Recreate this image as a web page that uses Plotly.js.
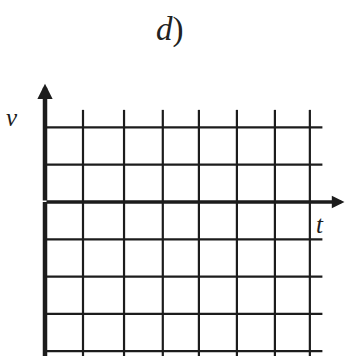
<!DOCTYPE html>
<html>
<head>
<meta charset="utf-8">
<script src="https://cdn.plot.ly/plotly-3.0.1.min.js"></script>
<style>
  html, body { margin: 0; padding: 0; background: #ffffff; }
  #chart { width: 349px; height: 356px; }
</style>
</head>
<body>
<div id="chart"></div>
<script>
// Grid positions (in t and v units)
var tGrid = [1.0, 2.08, 3.1, 4.05, 5.05, 6.05, 6.97]; // vertical grid lines
var vGrid = [2, 1, -1, -2, -3, -4];                    // horizontal grid lines
var gridTop = 2.47;                                    // top end of vertical grid lines
var gridBottom = -4.3;                                 // bottom end of vertical grid lines
var gridRight = 7.3;                                   // right end of horizontal grid lines
var tAxisEnd = 7.88;                                   // t-axis arrow tip
var vAxisEnd = 3.17;                                   // v-axis arrow tip
var titleText = "<i>d</i>)";
var vLabel = "<i>v</i>";
var tLabel = "<i>t</i>";

var lineColor = "#1c1c1c";

// vertical grid lines
var vx = [], vy = [];
tGrid.forEach(function (t) { vx.push(t, t, null); vy.push(gridBottom, gridTop, null); });
// horizontal grid lines
var hx = [], hy = [];
vGrid.forEach(function (v) { hx.push(0, gridRight, null); hy.push(v, v, null); });

var traces = [
  { x: vx, y: vy, mode: "lines", line: { color: lineColor, width: 2.2 }, hoverinfo: "skip", showlegend: false },
  { x: hx, y: hy, mode: "lines", line: { color: lineColor, width: 2.2 }, hoverinfo: "skip", showlegend: false },
  // v axis shaft (below the arrow)
  { x: [0, 0], y: [gridBottom, 0], mode: "lines", line: { color: lineColor, width: 4.5 }, hoverinfo: "skip", showlegend: false }
];

var pxPerT = 38, pxPerV = 37.3, x0px = 45, y0px = 202;
var layout = {
  width: 349, height: 356,
  margin: { l: 0, r: 0, t: 0, b: 0, pad: 0 },
  paper_bgcolor: "#ffffff", plot_bgcolor: "#ffffff",
  showlegend: false,
  xaxis: { range: [-x0px / pxPerT, (349 - x0px) / pxPerT], visible: false, fixedrange: true },
  yaxis: { range: [(y0px - 356) / pxPerV, y0px / pxPerV], visible: false, fixedrange: true },
  annotations: [
    // t axis with arrow
    { x: tAxisEnd, y: 0, ax: 0, ay: 0, xref: "x", yref: "y", axref: "x", ayref: "y",
      showarrow: true, arrowhead: 2, arrowsize: 0.72, arrowwidth: 3.5, arrowcolor: lineColor, text: "" },
    // v axis with arrow
    { x: 0, y: vAxisEnd, ax: 0, ay: 0, xref: "x", yref: "y", axref: "x", ayref: "y",
      showarrow: true, arrowhead: 2, arrowsize: 0.68, arrowwidth: 4.5, arrowcolor: lineColor, text: "" },
    { x: 170 / 349, y: 1 - 29 / 356, xref: "paper", yref: "paper", xanchor: "center", yanchor: "middle",
      text: titleText, showarrow: false,
      font: { family: "Liberation Serif", size: 33, color: "#222" } },
    { x: (12 - x0px) / pxPerT, y: (y0px - 117) / pxPerV, xref: "x", yref: "y", xanchor: "center", yanchor: "middle",
      text: vLabel, showarrow: false,
      font: { family: "Liberation Serif", size: 25, color: "#1c1c1c" } },
    { x: (320 - x0px) / pxPerT, y: (y0px - 224) / pxPerV, xref: "x", yref: "y", xanchor: "center", yanchor: "middle",
      text: tLabel, showarrow: false,
      font: { family: "Liberation Serif", size: 25, color: "#1c1c1c" } }
  ]
};

Plotly.newPlot("chart", traces, layout, { staticPlot: true, displayModeBar: false });
</script>
</body>
</html>
